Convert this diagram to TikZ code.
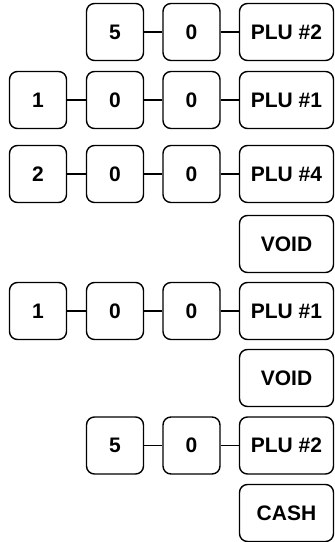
\documentclass[tikz,border=0pt]{standalone}
\usepackage{fontspec}
\setmainfont{Liberation Sans}
\usetikzlibrary{positioning}

\begin{document}
\begin{tikzpicture}[x=1pt, y=-1pt,
    key/.style = {draw, line width=1.4pt, rounded corners=8pt, minimum width=57pt,
        minimum height=57pt, inner sep=0pt, font=\fontsize{21}{24}\selectfont\bfseries},
    widekey/.style = {key, minimum width=94pt},
    link/.style = {line width=1.4pt}]
    \useasboundingbox (0,0) rectangle (335,542);

    \node[key] (a2) at (115,32) {5};
    \node[key] (a3) at (191.5,32) {0};
    \node[widekey] (a4) at (286.5,32) {PLU \#2};

    \node[key] (b1) at (38,100) {1};
    \node[key] (b2) at (115,100) {0};
    \node[key] (b3) at (191.5,100) {0};
    \node[widekey] (b4) at (286.5,100) {PLU \#1};

    \node[key] (c1) at (38,174) {2};
    \node[key] (c2) at (115,174) {0};
    \node[key] (c3) at (191.5,174) {0};
    \node[widekey] (c4) at (286.5,174) {PLU \#4};

    \node[widekey] (d4) at (286.5,244) {VOID};

    \node[key] (e1) at (38,311) {1};
    \node[key] (e2) at (115,311) {0};
    \node[key] (e3) at (191.5,311) {0};
    \node[widekey] (e4) at (286.5,311) {PLU \#1};

    \node[widekey] (f4) at (286.5,378) {VOID};

    \node[key] (g2) at (115,445.5) {5};
    \node[key] (g3) at (191.5,445.5) {0};
    \node[widekey] (g4) at (286.5,445.5) {PLU \#2};

    \node[widekey] (h4) at (286.5,513) {CASH};

    \draw[link] (a2) -- (a3) (a3) -- (a4);
    \draw[link] (b1) -- (b2) (b2) -- (b3) (b3) -- (b4);
    \draw[link] (c1) -- (c2) (c2) -- (c3) (c3) -- (c4);
    \draw[link] (e1) -- (e2) (e2) -- (e3) (e3) -- (e4);
    \draw[link] (g2) -- (g3) (g3) -- (g4);
\end{tikzpicture}
\end{document}
